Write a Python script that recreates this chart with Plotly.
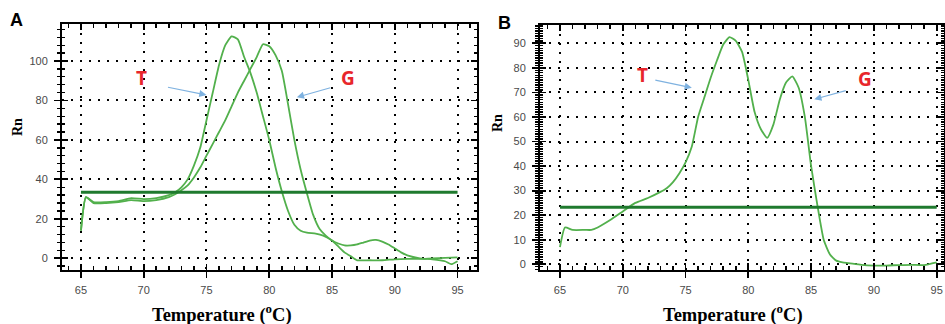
import plotly.graph_objects as go

# ---------------- data ----------------
temp_A_T = [65, 65.4, 66, 67, 68, 69, 70, 71, 72, 72.5, 73, 73.5, 74, 74.5, 75, 75.5, 76, 76.5, 77, 77.5,
            78, 78.5, 79, 79.5, 80, 80.5, 81, 81.5, 82, 82.5, 83, 83.7, 84.3, 85, 85.5, 86, 86.5, 87, 88, 89,
            90, 91, 92, 93, 94, 95]
rn_A_T = [14, 31, 28.5, 28.5, 29, 30.5, 30, 30.5, 32, 33.5, 36, 40, 47, 56, 70, 84, 98, 108, 112.5, 111,
          102, 94, 84, 72, 60, 46, 34, 24, 17, 14, 13, 12.5, 11.5, 9, 6, 3, 1, -1, -1, -1,
          -0.5, -0.3, -0.3, 0, 0.2, 0.5]

temp_A_G = [65, 65.4, 66, 67, 68, 69, 70, 71, 72, 72.5, 73, 73.5, 74, 74.5, 75, 75.5, 76, 76.5, 77, 77.5,
            78, 78.5, 79, 79.5, 80, 80.5, 81, 81.5, 82, 82.5, 83, 83.5, 84, 84.5, 85, 85.5, 86, 86.5, 87, 87.5,
            88, 88.5, 89, 89.5, 90, 90.5, 91, 92, 93, 94, 94.5, 95]
rn_A_G = [14, 31, 28, 28, 28.5, 29.5, 29, 29.5, 31, 32.5, 34.5, 37, 41, 46, 52, 58, 64, 70, 77, 84,
          90, 96, 102, 108.5, 107.5, 103, 95, 78, 60, 45, 33, 22, 15, 11.5, 9, 7.5, 6.5, 6.5, 7, 8,
          9, 9.3, 8.5, 7, 5, 3, 1.5, 0, -0.5, -1.5, -3, -1.5]

temp_B = [65, 65.4, 66, 67, 67.5, 68, 69, 70, 71, 72, 73, 73.5, 74, 74.5, 75, 75.5, 76, 76.5, 77, 77.5,
          78, 78.5, 79, 79.5, 80, 80.5, 81, 81.5, 82, 82.5, 83, 83.5, 84, 84.5, 85, 85.5, 86, 86.5, 87, 87.5,
          88, 89, 90, 91, 92, 93, 94, 95]
rn_B = [7, 15, 14, 14, 14, 15, 18, 21.5, 25, 27, 29.5, 31, 33.5, 37, 41.5, 48, 60, 68, 76, 83,
        89.5, 92.5, 91, 86.5, 75, 62, 55, 51.5, 57, 67, 74, 76.5, 72, 60, 40, 24, 10, 4, 1.5, 0.8,
        0.5, -0.2, -0.5, -0.5, -0.3, -0.2, -0.3, 0.8]

threshold_temp = [65, 95]
threshold_A = [33.5, 33.5]
threshold_B = [23.2, 23.2]

x_ticks = [65, 70, 75, 80, 85, 90, 95]
y_ticks_A = [0, 20, 40, 60, 80, 100]
y_ticks_B = [0, 10, 20, 30, 40, 50, 60, 70, 80, 90]

# ---------------- layout helpers ----------------
W, H = 945, 324
def px_x(p):
    return p / W
def px_y(p):
    return (H - p) / H

CURVE = "#52b04c"
THRESH = "#1f7a2e"
TICKFONT = dict(family="Liberation Sans, Arial, sans-serif", size=11, color="#4a4a4a")
CURVE_LINE = dict(color=CURVE, width=1.8, shape="spline", smoothing=0.5)

fig = go.Figure()
for t, r in [(temp_A_T, rn_A_T), (temp_A_G, rn_A_G)]:
    fig.add_trace(go.Scatter(x=t, y=r, mode="lines", line=CURVE_LINE,
                             xaxis="x", yaxis="y", showlegend=False, hoverinfo="skip"))
fig.add_trace(go.Scatter(x=threshold_temp, y=threshold_A, mode="lines",
                         line=dict(color=THRESH, width=3), xaxis="x", yaxis="y", showlegend=False))
fig.add_trace(go.Scatter(x=temp_B, y=rn_B, mode="lines", line=CURVE_LINE,
                         xaxis="x2", yaxis="y2", showlegend=False, hoverinfo="skip"))
fig.add_trace(go.Scatter(x=threshold_temp, y=threshold_B, mode="lines",
                         line=dict(color=THRESH, width=3), xaxis="x2", yaxis="y2", showlegend=False))

panels = [
    dict(xd=[px_x(62), px_x(477)], yd=[px_y(270), px_y(24)], xr=[63.49, 96.55], yr=[-5.93, 118.75],
         ytk=y_ticks_A, yminor=4),
    dict(xd=[px_x(540), px_x(944)], yd=[px_y(270), px_y(25)], xr=[63.41, 95.58], yr=[-2.32, 97.45],
         ytk=y_ticks_B, yminor=1),
]

GRIDDASH = "2px,7px"
layout = dict(width=W, height=H, margin=dict(l=0, r=0, t=0, b=0),
              paper_bgcolor="white", plot_bgcolor="white", showlegend=False)

for i, p in enumerate(panels):
    xn = "xaxis" if i == 0 else "xaxis2"
    yn = "yaxis" if i == 0 else "yaxis2"
    xa = "x" if i == 0 else "x2"
    ya = "y" if i == 0 else "y2"
    oxn, oyn = ("xaxis3", "yaxis3") if i == 0 else ("xaxis4", "yaxis4")
    layout[xn] = dict(domain=p["xd"], range=p["xr"], anchor=ya, tickmode="array", tickvals=x_ticks,
                      ticks="outside", ticklen=6, tickwidth=1.8, tickcolor="black",
                      showline=True, linecolor="black", linewidth=2, mirror=True,
                      showgrid=True, gridcolor="black", gridwidth=2, griddash=GRIDDASH,
                      tickfont=TICKFONT, ticklabelstandoff=3, zeroline=False, fixedrange=True)
    layout[yn] = dict(domain=p["yd"], range=p["yr"], anchor=xa, tickmode="array", tickvals=p["ytk"],
                      ticks="outside", ticklen=6, tickwidth=1.8, tickcolor="black",
                      minor=dict(dtick=p["yminor"], tick0=0, ticks="outside", ticklen=3, tickwidth=1.4,
                                 tickcolor="black", showgrid=False),
                      showline=True, linecolor="black", linewidth=2, mirror=True,
                      showgrid=True, gridcolor="black", gridwidth=2, griddash=GRIDDASH,
                      tickfont=TICKFONT, ticklabelstandoff=4, zeroline=False, fixedrange=True)
    layout[oxn] = dict(domain=p["xd"], range=p["xr"], anchor=ya, overlaying=xa, side="bottom",
                       tickmode="array", tickvals=x_ticks, ticks="inside", ticklen=6, tickwidth=1.8,
                       tickcolor="black", mirror="allticks", showline=False, showgrid=False,
                       showticklabels=False, zeroline=False, fixedrange=True,
                       minor=dict(dtick=1, tick0=65, ticks="inside", ticklen=4, tickwidth=1.6,
                                  tickcolor="black", showgrid=False))
    layout[oyn] = dict(domain=p["yd"], range=p["yr"], anchor=xa, overlaying=ya, side="left",
                       tickmode="array", tickvals=p["ytk"], ticks="inside", ticklen=6, tickwidth=1.8,
                       tickcolor="black", mirror="allticks", showline=False, showgrid=False,
                       showticklabels=False, zeroline=False, fixedrange=True,
                       minor=dict(dtick=p["yminor"], tick0=0, ticks="inside", ticklen=3, tickwidth=1.4,
                                  tickcolor="black", showgrid=False))

# empty traces so the overlay (tick) axes are drawn
fig.add_trace(go.Scatter(x=[], y=[], xaxis="x3", yaxis="y3", showlegend=False))
fig.add_trace(go.Scatter(x=[], y=[], xaxis="x4", yaxis="y4", showlegend=False))

ann = []
serif = "Liberation Serif, Times New Roman, serif"
for cx in (222, 733):
    ann.append(dict(text="<b>Temperature (<sup>o</sup>C)</b>", x=px_x(cx), y=px_y(313), xref="paper",
                    yref="paper", showarrow=False, font=dict(family=serif, size=18.5, color="black"),
                    xanchor="center", yanchor="middle"))
for cx, cy in ((18, 127), (497, 123)):
    ann.append(dict(text="<b>Rn</b>", x=px_x(cx), y=px_y(cy), xref="paper", yref="paper", showarrow=False,
                    textangle=-90, font=dict(family=serif, size=14, color="black"),
                    xanchor="center", yanchor="middle"))
for letter, cx, cy in (("A", 16, 20), ("B", 504, 23)):
    ann.append(dict(text="<b>%s</b>" % letter, x=px_x(cx), y=px_y(cy), xref="paper", yref="paper",
                    showarrow=False, font=dict(family="Liberation Sans, Arial, sans-serif", size=18,
                                               color="black"), xanchor="center", yanchor="middle"))
RED = "#e8262b"
labelfont = dict(family="Open Sans, Liberation Sans, sans-serif", size=19, color=RED)
for txt, x, y, xr, yr in (("T", 69.8, 91.2, "x", "y"), ("G", 86.3, 91.2, "x", "y"),
                          ("T", 71.6, 77.1, "x2", "y2"), ("G", 89.3, 75.4, "x2", "y2")):
    ann.append(dict(text="<b>%s</b>" % txt, x=x, y=y, xref=xr, yref=yr, showarrow=False, font=labelfont,
                    xanchor="center", yanchor="middle"))
ARROW = "#7fb2e0"
for x, y, ax, ay, xr, yr in ((75.0, 82.8, -40, -8, "x", "y"), (82.2, 81.6, 35, -10, "x", "y"),
                             (75.5, 71.9, -38, -8, "x2", "y2"), (85.25, 67.2, 33, -9, "x2", "y2")):
    ann.append(dict(text="", x=x, y=y, xref=xr, yref=yr, ax=ax, ay=ay, showarrow=True, arrowhead=2,
                    arrowsize=1.2, arrowwidth=1.2, arrowcolor=ARROW, standoff=0))

layout["annotations"] = ann
fig.update_layout(**layout)
fig.write_html("out.html", config={"displayModeBar": False, "staticPlot": True},
               post_script="document.body.style.margin='0';document.body.style.overflow='hidden';")
